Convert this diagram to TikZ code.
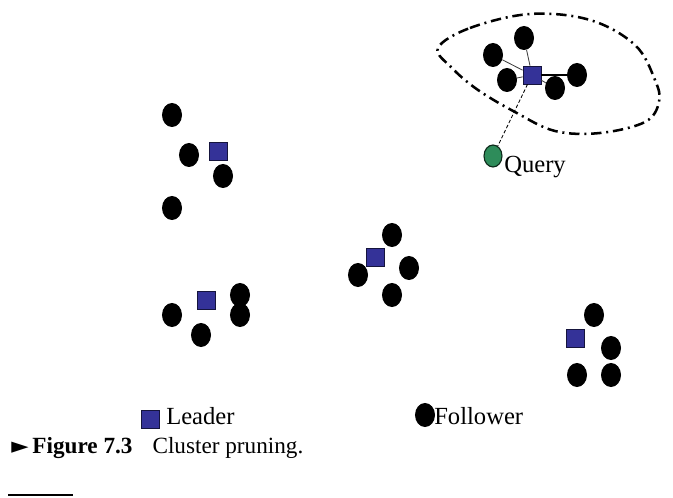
\documentclass[tikz,border=0pt]{standalone}
\usepackage{fontspec}
\setmainfont{Liberation Serif}
\newfontfamily\symfont{DejaVu Sans}
\usetikzlibrary{shapes.geometric}

\definecolor{leaderblue}{RGB}{52,50,152}
\definecolor{querygreen}{RGB}{46,140,90}

\tikzset{
  follower/.style={ellipse, fill=black, minimum width=0.5cm, minimum height=0.6cm, inner sep=0pt},
  leader/.style={rectangle, fill=leaderblue, draw=black!60!leaderblue, line width=0.6pt, minimum size=0.45cm, inner sep=0pt},
  query/.style={ellipse, fill=querygreen, draw=black!70!querygreen, line width=0.8pt, minimum width=0.45cm, minimum height=0.55cm, inner sep=0pt},
  label/.style={font=\fontsize{17.5}{20}\selectfont, inner sep=0pt, anchor=west},
  link/.style={draw=black!75, line width=0.6pt},
  region/.style={line width=1.8pt, dash pattern=on 0.26cm off 0.12cm on 0.05cm off 0.12cm}
}

\begin{document}
\begin{tikzpicture}[x={(0.025cm,0)}, y={(0,-0.025cm)}]
    \useasboundingbox (0,0) rectangle (673,498);

    % cluster top left
    \node[leader] (l1) at (218,151) {};
    \node[follower] (f11) at (172,115) {};
    \node[follower] (f12) at (189,155) {};
    \node[follower] (f13) at (223,176) {};
    \node[follower] (f14) at (172,208) {};

    % cluster bottom left
    \node[leader] (l2) at (206,300) {};
    \node[follower] (f21) at (172,315) {};
    \node[follower] (f22) at (201,335) {};
    \node[follower] (f23) at (240,295) {};
    \node[follower] (f24) at (240,315) {};

    % cluster middle
    \node[leader] (l3) at (375,257) {};
    \node[follower] (f31) at (392,235) {};
    \node[follower] (f32) at (409,268) {};
    \node[follower] (f33) at (358,275) {};
    \node[follower] (f34) at (392,295) {};

    % cluster right
    \node[leader] (l4) at (575,338) {};
    \node[follower] (f41) at (594,315) {};
    \node[follower] (f42) at (611,348) {};
    \node[follower] (f43) at (577,375) {};
    \node[follower] (f44) at (611,375) {};

    % cluster top right, hit by the query
    \draw[region] plot[smooth cycle, tension=0.6] coordinates {(438,48) (470,28) (530,14) (590,20) (635,45) (655,80) (659,102) (645,122) (600,133) (555,131) (515,112) (478,90) (452,68)};

    \node[leader] (l5) at (532,75) {};
    \node[follower] (f51) at (493,55) {};
    \node[follower] (f52) at (524,38) {};
    \node[follower] (f53) at (507,80) {};
    \node[follower] (f54) at (555,88) {};
    \node[follower] (f55) at (577,75) {};

    \draw[link] (l5) -- (f51);
    \draw[link] (l5) -- (f52);
    \draw[link] (l5) -- (f53);
    \draw[link] (l5) -- (f54);
    \draw[line width=0.9pt] (l5) -- (f55);

    \node[query] (q) at (493,156) {};
    \node[label] (qtext) at (504,167) {Query};
    \draw[line width=0.6pt, dash pattern=on 2.5pt off 1.5pt] (l5) -- (q);

    % legend
    \node[leader] (lleg) at (150,419) {};
    \node[label] (ltext) at (166,416) {Leader};
    \node[follower] (fleg) at (425,415) {};
    \node[label] (ftext) at (434,416) {Follower};

    % caption
    \node[anchor=west, inner sep=0pt, font=\fontsize{16.5}{19}\selectfont] (cap) at (11,448) {{\symfont\fontsize{16}{18}\selectfont ►}\,\textbf{Figure 7.3}\hspace{0.5cm}Cluster pruning.};
    \coordinate (barl) at (8,495);
    \coordinate (barr) at (73,495);
    \draw[line width=1.4pt] (barl) -- (barr);
\end{tikzpicture}
\end{document}
